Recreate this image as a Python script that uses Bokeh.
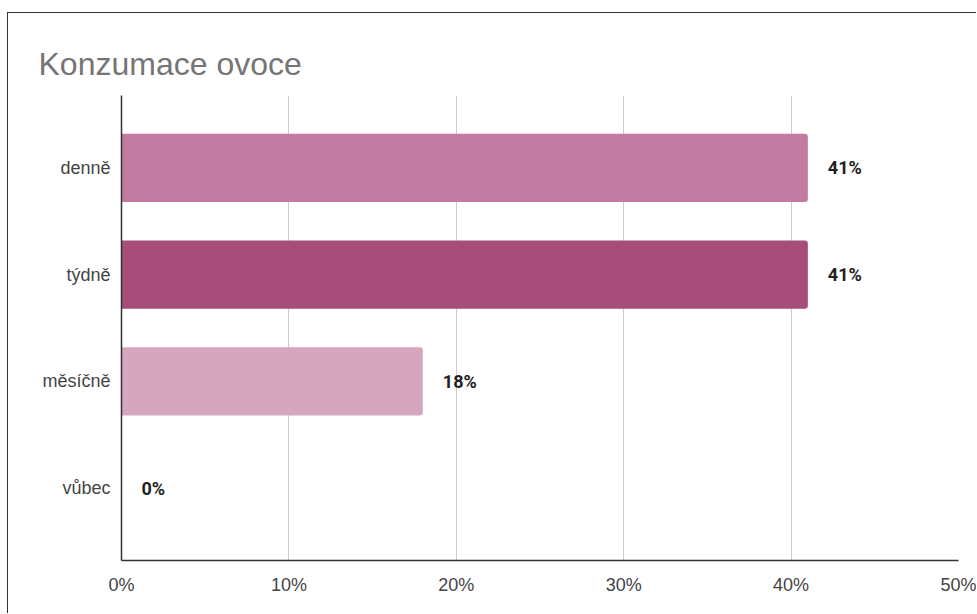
from bokeh.plotting import figure
from bokeh.models import FactorRange, Range1d, FixedTicker, NumeralTickFormatter, ColumnDataSource
from bokeh.core.properties import value
from bokeh.embed import file_html
from bokeh.resources import INLINE

title = "Konzumace ovoce"
categories = ["denně", "týdně", "měsíčně", "vůbec"]
shares = [0.41, 0.41, 0.18, 0.0]
colors = ["#C27BA0", "#A64D79", "#D5A6BD", "#D5A6BD"]
x_ticks = [0.0, 0.1, 0.2, 0.3, 0.4, 0.5]

labels = [f"{round(v * 100)}%" for v in shares]
src = ColumnDataSource(dict(cat=categories, val=shares, col=colors, lab=labels))

p = figure(
    width=969, height=601,
    y_range=FactorRange(factors=list(reversed(categories)), range_padding=0.089),
    x_range=Range1d(0, 0.5),
    output_backend="svg", toolbar_location=None,
    min_border_left=113, min_border_top=82, min_border_right=19, min_border_bottom=54,
)
p.styles = {"margin-left": "7px", "margin-top": "12px",
            "border-left": "1px solid #333", "border-top": "1px solid #333"}

p.title.text = title
p.title.text_font = "Liberation Sans"
p.title.text_font_size = "32px"
p.title.text_font_style = "normal"
p.title.text_color = "#757575"
p.title.align = "left"
p.title.offset = -83
p.title.standoff = 27

p.hbar(y="cat", right="val", left=0, height=0.64, source=src,
       fill_color="col", line_color=None, border_radius=(0, 3, 3, 0))

p.text(x="val", y="cat", text="lab", source=src, x_offset=20,
       text_baseline="middle", text_align="left",
       text_font=value("Roboto"), text_font_style="bold",
       text_font_size="18px", text_color="#222222")

p.xaxis.ticker = FixedTicker(ticks=x_ticks)
p.xaxis.formatter = NumeralTickFormatter(format="0%")
for ax in (p.xaxis, p.yaxis):
    ax.axis_line_color = "#333333"
    ax.axis_line_width = 1.5
    ax.major_tick_line_color = None
    ax.minor_tick_line_color = None
    ax.major_label_text_font = "Liberation Sans"
    ax.major_label_text_font_size = "18px"
    ax.major_label_text_color = "#444444"
p.xaxis.major_label_standoff = 8
p.yaxis.major_label_standoff = 5

p.xgrid.grid_line_color = "#cccccc"
p.xgrid.ticker = FixedTicker(ticks=x_ticks)
p.ygrid.grid_line_color = None
p.outline_line_color = None

open("out.html", "w").write(file_html(p, INLINE))
